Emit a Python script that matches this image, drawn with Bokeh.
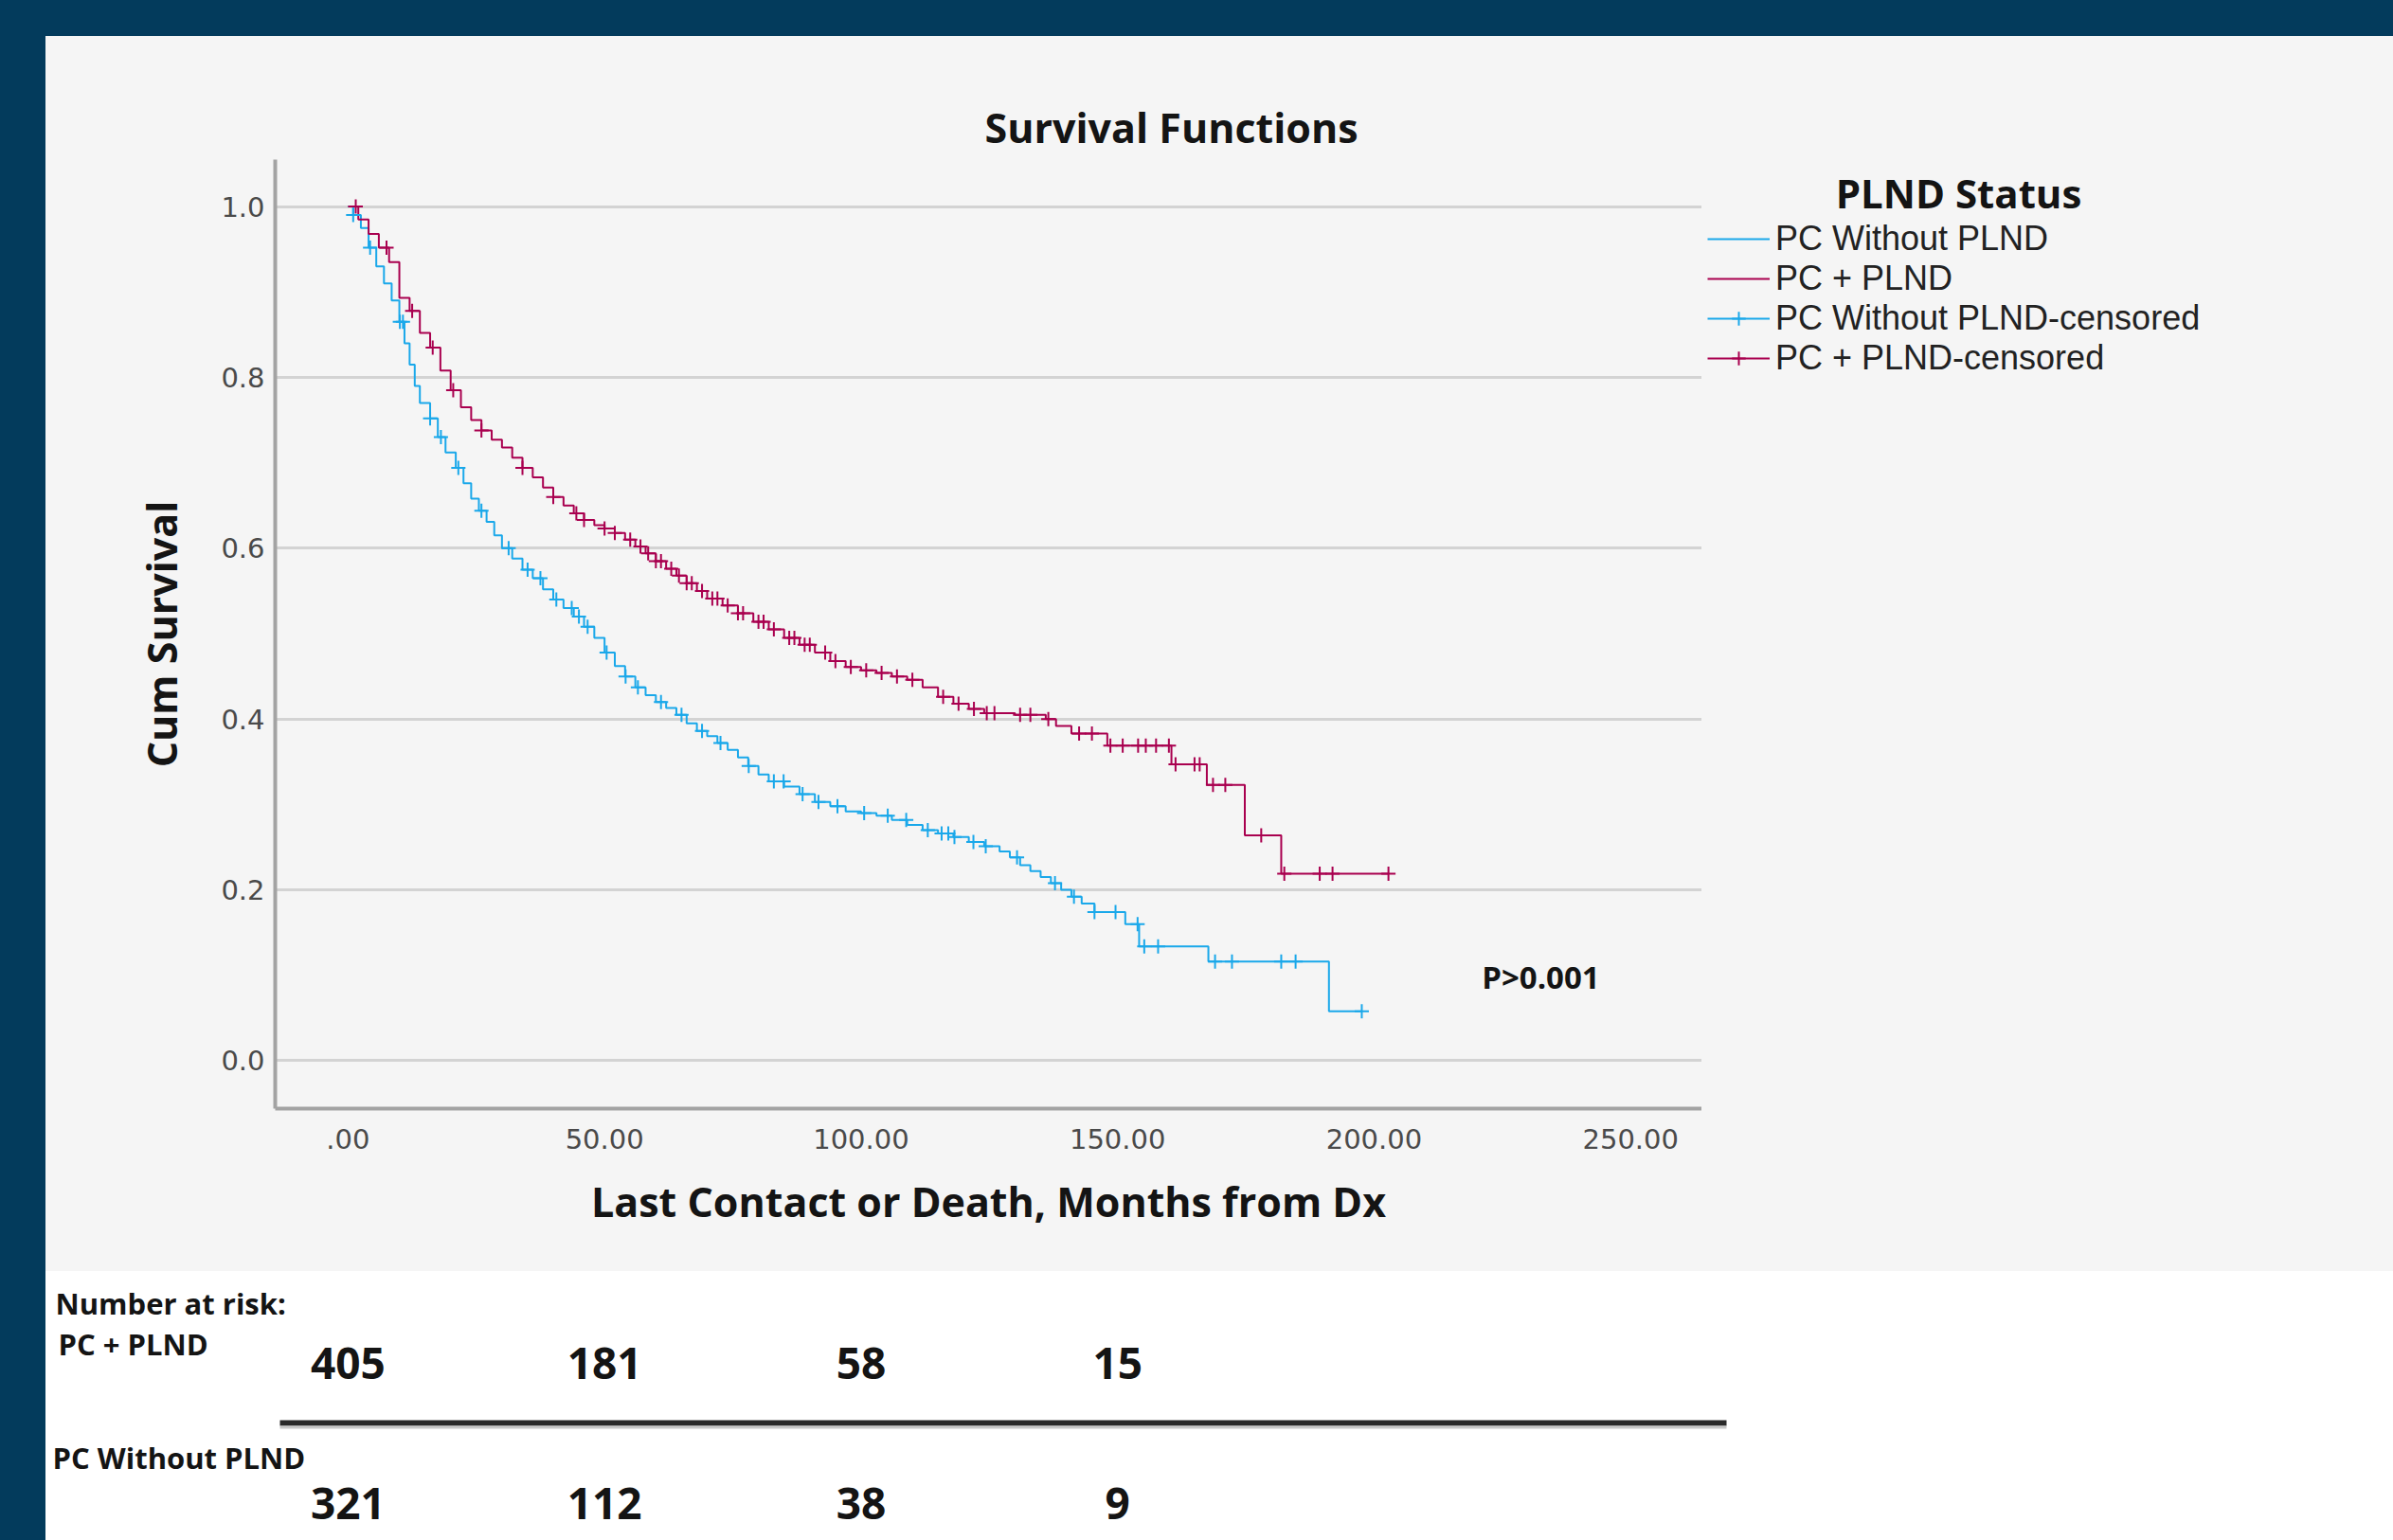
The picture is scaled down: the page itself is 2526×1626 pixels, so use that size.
from bokeh.plotting import figure
from bokeh.models import (Range1d, FixedTicker, Legend, LegendItem, Label,
                          BoxAnnotation, Spacer, ColumnDataSource)
from bokeh.layouts import column, row
from bokeh.embed import file_html
from bokeh.resources import INLINE
from bokeh.core.properties import value

# ---------------- data ----------------
series_names = ["PC Without PLND", "PC + PLND"]
legend_title = "PLND Status"
chart_title = "Survival Functions"

# PC + PLND : Kaplan-Meier step points (months, cum survival)
plnd_t = [0, 2, 4, 6, 8, 10, 12, 14, 16, 18, 20, 22, 24, 26, 28, 30, 32, 34, 36, 38,
          40, 42, 44, 46, 48, 50, 52, 54, 56, 58, 60, 62, 64, 66, 68, 70, 73, 76, 79, 82,
          85, 88, 91, 94, 97, 100, 103, 106, 109, 112, 115, 118, 121, 124, 130, 136, 138, 141, 148, 160.5,
          167.4, 174.8, 181.9, 202.8]
plnd_s = [1.000, 0.985, 0.968, 0.952, 0.935, 0.893, 0.878, 0.852, 0.835, 0.808, 0.785, 0.765, 0.750, 0.738, 0.727, 0.718, 0.706, 0.694, 0.683, 0.671,
          0.660, 0.650, 0.641, 0.633, 0.627, 0.623, 0.618, 0.610, 0.602, 0.594, 0.585, 0.576, 0.568, 0.559, 0.550, 0.541, 0.533, 0.524, 0.514, 0.505,
          0.495, 0.487, 0.478, 0.468, 0.461, 0.457, 0.454, 0.450, 0.446, 0.437, 0.426, 0.418, 0.412, 0.407, 0.405, 0.400, 0.392, 0.383, 0.369, 0.347,
          0.323, 0.264, 0.219, 0.219]

# PC + PLND : censored observations
plnd_cens_t = [1.5, 7.5, 12.5, 16.5, 20.5, 26, 34, 40, 44.5, 46,
               50, 52, 55, 57, 58.5, 60, 61, 63, 64.5, 66,
               67, 69, 71, 72, 74, 76, 77, 80, 81, 83,
               86, 87, 89, 90, 93, 95, 98, 101, 104, 107,
               110, 116, 119, 122, 124.5, 126, 131, 133, 136.5, 142.5,
               145, 148.6, 151, 154, 155.5, 157.5, 160, 161.3, 165, 166,
               168.6, 171, 178, 182.5, 189.4, 191.9, 202.8]
plnd_cens_s = [1.000, 0.952, 0.878, 0.835, 0.785, 0.738, 0.694, 0.660, 0.641, 0.633,
               0.623, 0.618, 0.610, 0.602, 0.594, 0.585, 0.585, 0.576, 0.568, 0.559,
               0.559, 0.550, 0.541, 0.541, 0.533, 0.524, 0.524, 0.514, 0.514, 0.505,
               0.495, 0.495, 0.487, 0.487, 0.478, 0.468, 0.461, 0.457, 0.454, 0.450,
               0.446, 0.426, 0.418, 0.412, 0.407, 0.407, 0.405, 0.405, 0.400, 0.383,
               0.383, 0.369, 0.369, 0.369, 0.369, 0.369, 0.369, 0.347, 0.347, 0.347,
               0.323, 0.323, 0.264, 0.219, 0.219, 0.219, 0.219]

# PC Without PLND : Kaplan-Meier step points
nopl_t = [0, 1, 2.5, 4, 5.5, 7, 8.5, 10, 11, 12, 13, 14, 16, 17.5, 19, 21, 22.5, 24, 25.5, 27,
          28.5, 30, 32, 34, 36, 38, 40, 42, 44, 46, 48, 50, 52, 54, 56, 58, 60, 62, 64, 66,
          68, 70, 72, 74, 76, 78, 80, 82, 85, 88, 91, 94, 97, 100, 103, 106, 109, 112, 115, 118,
          121, 124, 127, 129, 131, 133, 135, 137, 139, 141, 143, 145.5, 151.5, 154.2, 167.7, 191.2, 197.6]
nopl_s = [1.000, 0.990, 0.975, 0.952, 0.930, 0.910, 0.890, 0.865, 0.840, 0.815, 0.790, 0.770, 0.752, 0.730, 0.712, 0.694, 0.676, 0.658, 0.644, 0.631,
          0.615, 0.600, 0.588, 0.575, 0.565, 0.552, 0.540, 0.530, 0.520, 0.508, 0.495, 0.478, 0.462, 0.450, 0.437, 0.428, 0.420, 0.413, 0.405, 0.395,
          0.386, 0.380, 0.372, 0.364, 0.355, 0.345, 0.335, 0.327, 0.321, 0.312, 0.303, 0.298, 0.292, 0.290, 0.287, 0.282, 0.276, 0.270, 0.266, 0.262,
          0.256, 0.251, 0.245, 0.238, 0.229, 0.222, 0.215, 0.208, 0.200, 0.192, 0.184, 0.174, 0.160, 0.134, 0.116, 0.058, 0.058]

# PC Without PLND : censored observations
nopl_cens_t = [1, 4.3, 10.1, 10.7, 16, 18.1, 21.5, 26, 31.3, 35,
               37.5, 40.6, 43.6, 45, 46.7, 50.4, 54.1, 56.5, 61, 65,
               69, 72.6, 78.1, 83, 84.9, 88.6, 91.7, 95.4, 100.6, 105.2,
               108.8, 113, 115.7, 117, 118.2, 121.9, 124.3, 130.4, 137.8, 141.5,
               145.5, 149.6, 153.9, 155.2, 157.9, 169, 172.3, 181.9, 184.7, 197.6]
nopl_cens_s = [0.990, 0.952, 0.865, 0.865, 0.752, 0.730, 0.694, 0.644, 0.600, 0.575,
               0.565, 0.540, 0.530, 0.520, 0.508, 0.478, 0.450, 0.437, 0.420, 0.405,
               0.386, 0.372, 0.345, 0.327, 0.327, 0.312, 0.303, 0.298, 0.290, 0.287,
               0.282, 0.270, 0.266, 0.266, 0.262, 0.256, 0.251, 0.238, 0.208, 0.192,
               0.174, 0.174, 0.160, 0.134, 0.134, 0.116, 0.116, 0.116, 0.116, 0.058]

x_ticks = [0, 50, 100, 150, 200, 250]
x_tick_labels = [".00", "50.00", "100.00", "150.00", "200.00", "250.00"]
y_ticks = [0.0, 0.2, 0.4, 0.6, 0.8, 1.0]
y_tick_labels = ["0.0", "0.2", "0.4", "0.6", "0.8", "1.0"]

risk_times = [0, 50, 100, 150]
risk_plnd = [405, 181, 58, 15]
risk_nopl = [321, 112, 38, 9]

p_value_text = "P>0.001"

# ---------------- styling / layout constants ----------------
NAVY = "#033b5c"
PANEL = "#f5f5f5"
BLUE = "#1aa8ea"
PINK = "#a9004f"
FONT = "Open Sans"
TICK_FONT = "DejaVu Sans"
LEGEND_FONT = "Liberation Sans"
INK = "#141414"
NAN = float("nan")

PAGE_W, PAGE_H = 2526, 1626
TOP_BAND, LEFT_BAND = 38, 48
X0, X1 = -14.2, 263.9
Y0, Y1 = -0.056, 1.055
FW, FH = 1506, 1002
BL, BT, BB = 242, 130, 172
PW = BL + FW
H = BT + FH + BB
LW = PAGE_W - LEFT_BAND - PW
RH = PAGE_H - TOP_BAND - H

# ---------------- main chart ----------------
p = figure(width=PW, height=H, x_range=Range1d(X0, X1), y_range=Range1d(Y0, Y1),
           output_backend="svg", toolbar_location=None,
           min_border_left=BL, min_border_right=0, min_border_top=BT, min_border_bottom=BB,
           styles={"background-color": PANEL})
p.background_fill_color = PANEL
p.border_fill_color = PANEL
p.outline_line_color = None

p.title.text = chart_title
p.title.align = "left"
p.title.offset = 749
p.title.standoff = 10
p.title.text_font = FONT
p.title.text_font_style = "bold"
p.title.text_font_size = "43px"
p.title.text_color = INK

p.xaxis.ticker = FixedTicker(ticks=x_ticks)
p.xaxis.major_label_overrides = {t: l for t, l in zip(x_ticks, x_tick_labels)}
p.yaxis.ticker = FixedTicker(ticks=y_ticks)
p.yaxis.major_label_overrides = {t: l for t, l in zip(y_ticks, y_tick_labels)}
p.xaxis.axis_label = "Last Contact or Death, Months from Dx"
p.yaxis.axis_label = "Cum Survival"
for ax in (p.xaxis[0], p.yaxis[0]):
    ax.axis_line_color = "#a3a3a3"
    ax.axis_line_width = 4
    ax.major_tick_line_color = None
    ax.minor_tick_line_color = None
    ax.major_tick_out = 0
    ax.major_tick_in = 0
    ax.minor_tick_out = 0
    ax.major_label_text_font = TICK_FONT
    ax.major_label_text_font_size = "29px"
    ax.major_label_text_color = "#4a4a4a"
    ax.axis_label_text_font = FONT
    ax.axis_label_text_font_style = "bold"
    ax.axis_label_text_font_size = "43px"
    ax.axis_label_text_color = INK
p.xaxis.major_label_standoff = 21
p.xaxis.axis_label_standoff = 23
p.yaxis.major_label_standoff = 11
p.yaxis.axis_label_standoff = 30

p.xgrid.visible = False
p.ygrid.ticker = FixedTicker(ticks=y_ticks)
p.ygrid.grid_line_color = "#d3d3d3"
p.ygrid.grid_line_width = 3

src_b = ColumnDataSource(dict(t=nopl_t, s=nopl_s))
src_p = ColumnDataSource(dict(t=plnd_t, s=plnd_s))
p.step("t", "s", source=src_b, mode="after", line_color=BLUE, line_width=2)
p.step("t", "s", source=src_p, mode="after", line_color=PINK, line_width=2)
p.scatter(nopl_cens_t, nopl_cens_s, marker="cross", size=15, line_color=BLUE, line_width=2)
p.scatter(plnd_cens_t, plnd_cens_s, marker="cross", size=15, line_color=PINK, line_width=2)

p.add_layout(Label(x=221, y=0.098, text=p_value_text, text_align="left", text_baseline="middle",
                   text_font=FONT, text_font_style="bold", text_font_size="33px",
                   text_color=INK))

# ---------------- legend panel (separate figure to the right) ----------------
lg = figure(width=LW, height=H, x_range=Range1d(0, 1), y_range=Range1d(0, 1),
            output_backend="svg", toolbar_location=None, x_axis_type=None, y_axis_type=None,
            min_border_left=0, min_border_right=0, min_border_top=BT, min_border_bottom=BB,
            styles={"background-color": PANEL})
lg.background_fill_color = PANEL
lg.border_fill_color = PANEL
lg.outline_line_color = None
lg.grid.visible = False
# swatch-only renderers (no data points) used for the legend icons
g_b = lg.step(x=[NAN], y=[NAN], line_color=BLUE, line_width=2)
g_p = lg.step(x=[NAN], y=[NAN], line_color=PINK, line_width=2)
m_b = lg.scatter(x=[NAN], y=[NAN], marker="cross", size=15, line_color=BLUE, line_width=2)
m_p = lg.scatter(x=[NAN], y=[NAN], marker="cross", size=15, line_color=PINK, line_width=2)

legend = Legend(items=[
    LegendItem(label=series_names[0], renderers=[g_b]),
    LegendItem(label=series_names[1], renderers=[g_p]),
    LegendItem(label=series_names[0] + "-censored", renderers=[g_b, m_b]),
    LegendItem(label=series_names[1] + "-censored", renderers=[g_p, m_p]),
], location=(6, 771))
legend.background_fill_alpha = 0
legend.border_line_color = None
legend.padding = 0
legend.margin = 0
legend.spacing = 0
legend.glyph_width = 66
legend.glyph_height = 36
legend.label_height = 36
legend.label_standoff = 6
legend.label_text_font = LEGEND_FONT
legend.label_text_font_size = "36px"
legend.label_text_color = "#222222"
legend.label_text_baseline = "middle"
lg.add_layout(legend)

lg.add_layout(Label(x=271, y=967, x_units="screen", y_units="screen", text=legend_title,
                    text_align="center", text_baseline="middle", text_font=FONT,
                    text_font_style="bold", text_font_size="42px", text_color=INK))

# ---------------- number-at-risk table ----------------
px_per_unit = (X1 - X0) / FW
q = figure(width=PAGE_W - LEFT_BAND, height=RH,
           x_range=Range1d(X0 - BL * px_per_unit, X0 + (PAGE_W - LEFT_BAND - BL) * px_per_unit),
           y_range=Range1d(0, RH), output_backend="svg", toolbar_location=None,
           x_axis_type=None, y_axis_type=None, min_border=0,
           styles={"background-color": "#ffffff"})
q.background_fill_color = "#ffffff"
q.border_fill_color = "#ffffff"
q.outline_line_color = None
q.grid.visible = False

row1_y = RH - 97
row2_y = RH - 245
q.text(x=risk_times, y=[row1_y] * len(risk_times), text=[str(v) for v in risk_plnd],
       text_align="center", text_baseline="middle", text_font=value(FONT),
       text_font_style="bold", text_font_size=value("46px"), text_color=INK)
q.text(x=risk_times, y=[row2_y] * len(risk_times), text=[str(v) for v in risk_nopl],
       text_align="center", text_baseline="middle", text_font=value(FONT),
       text_font_style="bold", text_font_size=value("46px"), text_color=INK)

for txt, lx, ty in [("Number at risk:", 10, 33), (series_names[1], 13, 76), (series_names[0], 7, 196)]:
    q.add_layout(Label(x=lx, y=RH - ty, x_units="screen", y_units="screen", text=txt,
                       text_align="left", text_baseline="middle", text_font=FONT,
                       text_font_style="bold", text_font_size="31px", text_color=INK))

q.add_layout(BoxAnnotation(left=247, right=1774, bottom=RH - 163, top=RH - 157,
                           left_units="screen", right_units="screen",
                           bottom_units="screen", top_units="screen",
                           fill_color="#2a2a2a", fill_alpha=1, line_color=None))
q.add_layout(BoxAnnotation(left=247, right=1774, bottom=RH - 166, top=RH - 163,
                           left_units="screen", right_units="screen",
                           bottom_units="screen", top_units="screen",
                           fill_color="#c8c8c8", fill_alpha=1, line_color=None))

top_band = Spacer(width=PAGE_W, height=TOP_BAND, styles={"background-color": NAVY})
left_band = Spacer(width=LEFT_BAND, height=PAGE_H - TOP_BAND, styles={"background-color": NAVY})
root = column(top_band, row(left_band, column(row(p, lg), row(q))))

open("out.html", "w").write(file_html(root, INLINE))
